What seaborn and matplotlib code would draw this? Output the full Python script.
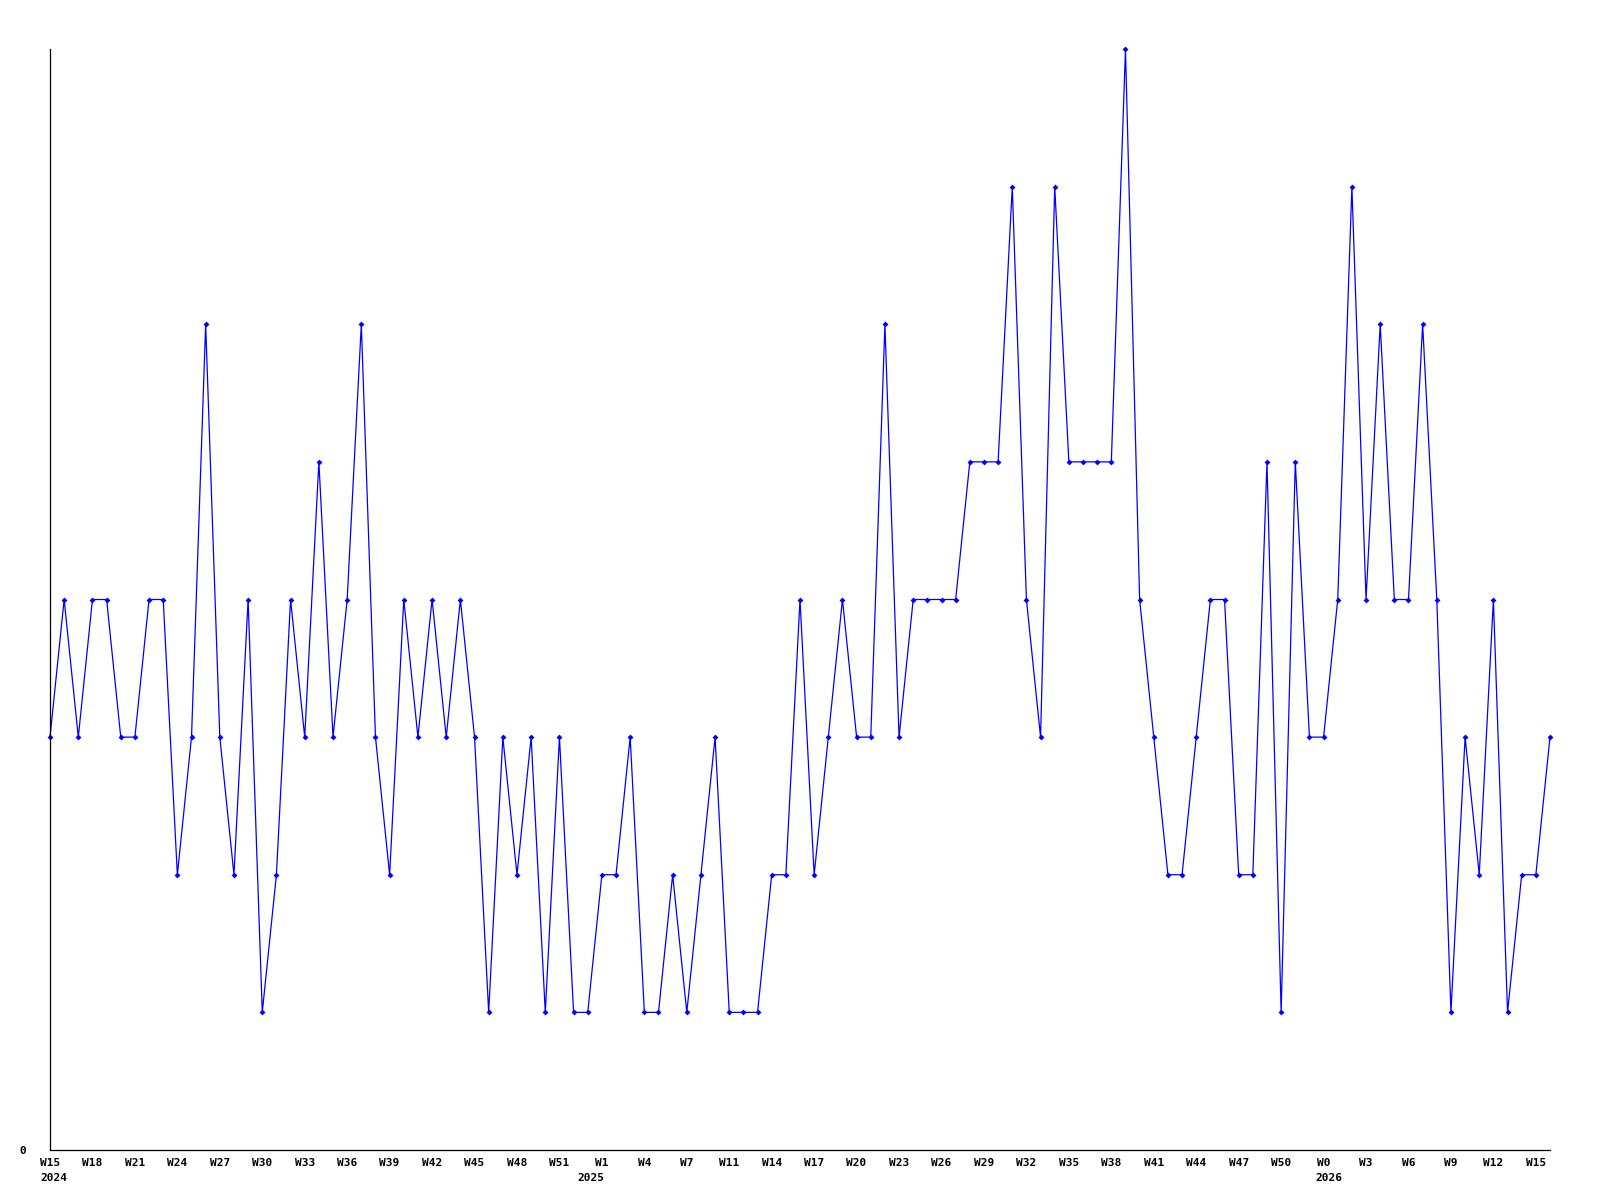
import numpy as np
import pandas as pd
import matplotlib
matplotlib.use("Agg")
import matplotlib.pyplot as plt
import seaborn as sns

# weekly counts, W15 2024 .. W15 2026 (107 points)
counts = [3, 4, 3, 4, 4, 3, 3, 4, 4, 2, 3, 6, 3, 2, 4, 1, 2, 4, 3, 5,
          3, 4, 6, 3, 2, 4, 3, 4, 3, 4, 3, 1, 3, 2, 3, 1, 3, 1, 1, 2,
          2, 3, 1, 1, 2, 1, 2, 3, 1, 1, 1, 2, 2, 4, 2, 3, 4, 3, 3, 6,
          3, 4, 4, 4, 4, 5, 5, 5, 7, 4, 3, 7, 5, 5, 5, 5, 8, 4, 3, 2,
          2, 3, 4, 4, 2, 2, 5, 1, 5, 3, 3, 4, 7, 4, 6, 4, 4, 6, 4, 1,
          3, 2, 4, 1, 2, 2, 3]

# one label every third point
week_labels = ["W15", "W18", "W21", "W24", "W27", "W30", "W33", "W36", "W39",
               "W42", "W45", "W48", "W51", "W1", "W4", "W7", "W11", "W14",
               "W17", "W20", "W23", "W26", "W29", "W32", "W35", "W38", "W41",
               "W44", "W47", "W50", "W0", "W3", "W6", "W9", "W12", "W15"]
year_labels = {0: "2024", 13: "2025", 30: "2026"}

df = pd.DataFrame({"idx": np.arange(len(counts)), "count": counts})

sns.set_style("white")
plt.rcParams["font.family"] = ["DejaVu Sans Mono"]
plt.rcParams["font.weight"] = "bold"
plt.rcParams["text.color"] = "black"

fig = plt.figure(figsize=(16, 12), dpi=100)
ax = fig.add_axes([50 / 1600, 50 / 1200, 1500 / 1600, 1101 / 1200])

sns.lineplot(data=df, x="idx", y="count", ax=ax, color="#0000FF", linewidth=0.9,
             marker="D", markersize=3, markeredgewidth=0, markerfacecolor="#0000FF",
             clip_on=False)

ax.set_xlim(0, len(counts) - 1)
ax.set_ylim(0, max(counts))

tick_pos = np.arange(0, len(counts), 3)
ax.set_xticks(tick_pos)
ax.set_xticklabels(week_labels, fontsize=8, fontweight="bold", color="black")
ax.set_yticks([0])
ax.set_yticklabels(["0"], fontsize=8, fontweight="bold", color="black")
ax.tick_params(axis="x", length=0, pad=5.5, labelcolor="black")
ax.tick_params(axis="y", length=0, pad=17, labelcolor="black")
ax.set_xlabel("")
ax.set_ylabel("")

for i, yr in year_labels.items():
    if yr == "2025":
        off, ha = 2, "right"
    elif yr == "2024":
        off, ha = -10, "left"
    else:
        off, ha = -8, "left"
    ax.annotate(yr, xy=(tick_pos[i], 0), xycoords=("data", "axes fraction"),
                xytext=(off * 0.72, -16.5), textcoords="offset points",
                ha=ha, va="top", fontsize=8, fontweight="bold", color="black")

for s in ["top", "right"]:
    ax.spines[s].set_visible(False)
for s in ["left", "bottom"]:
    ax.spines[s].set_color("black")
    ax.spines[s].set_linewidth(0.9)
ax.grid(False)

fig.savefig("out.png", dpi=100, facecolor="white")
